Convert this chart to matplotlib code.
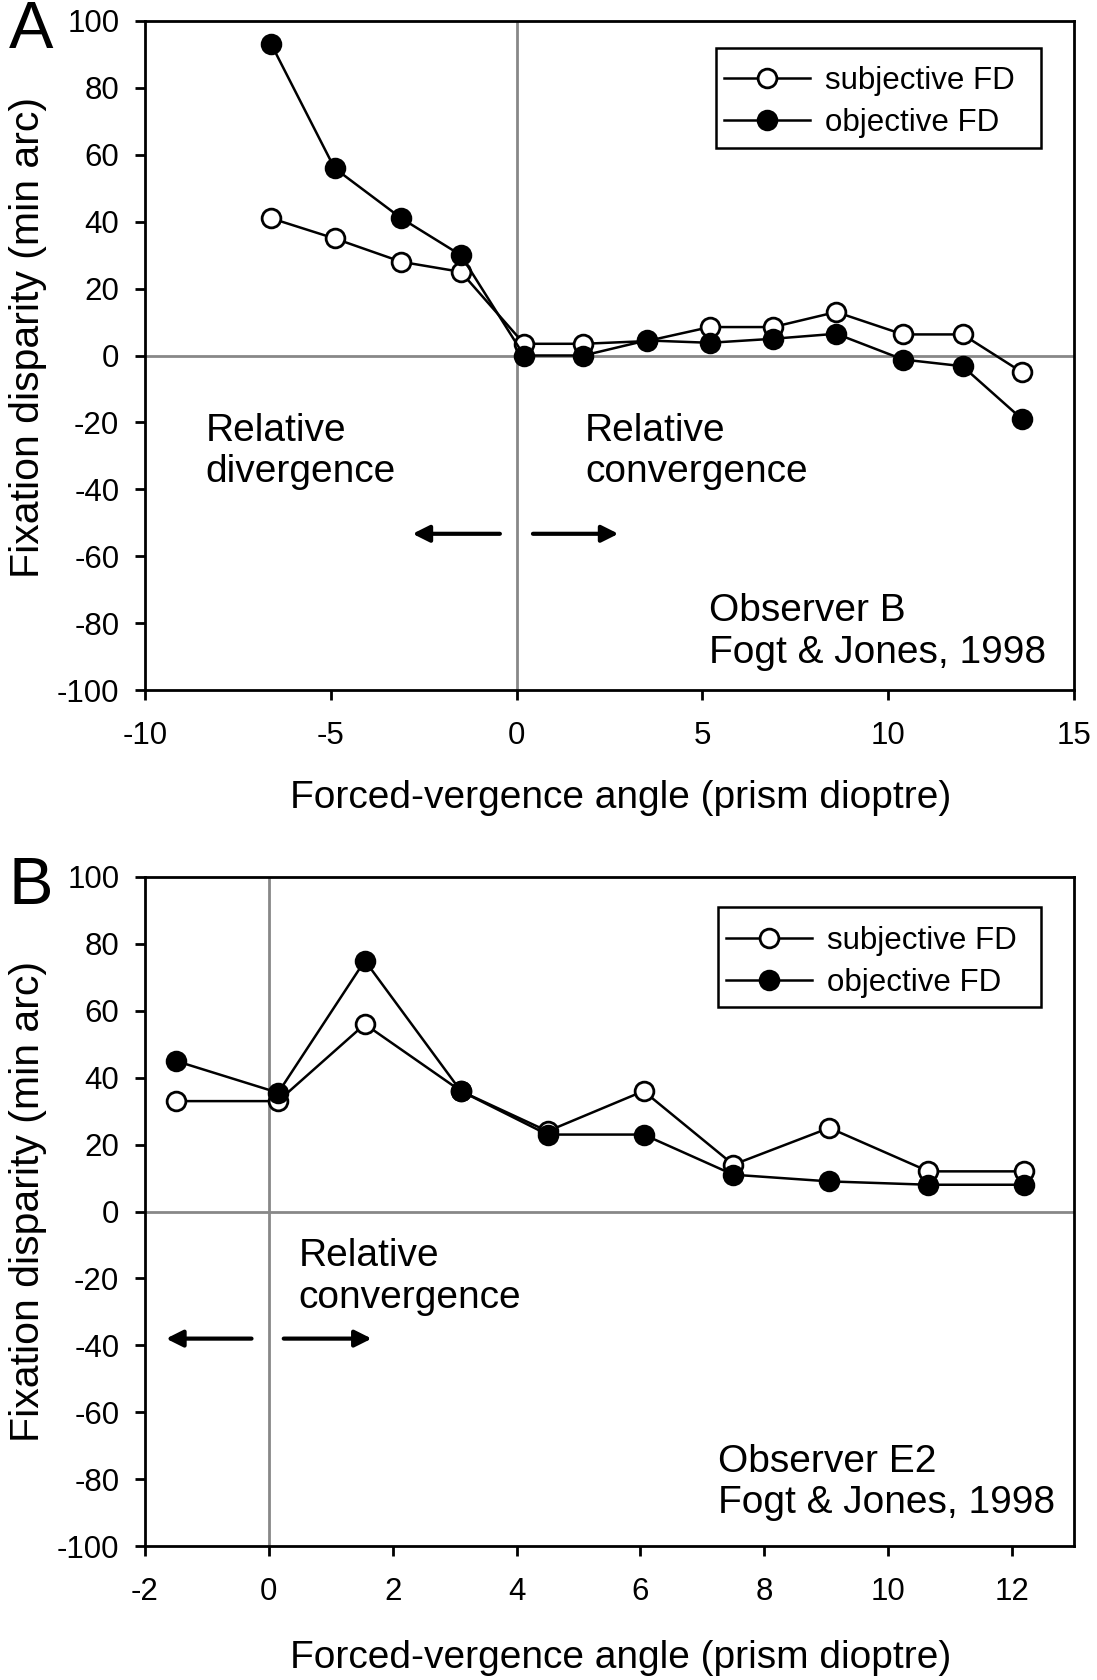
import matplotlib
matplotlib.use("Agg")
import matplotlib.pyplot as plt
from matplotlib.patches import Rectangle

plt.rcParams['font.family'] = ['Liberation Sans', 'DejaVu Sans']
plt.rcParams['axes.unicode_minus'] = False

# ---- Panel A data (Observer B) ----
xA = [-6.6, -4.9, -3.1, -1.5, 0.2, 1.8, 3.5, 5.2, 6.9, 8.6, 10.4, 12.0, 13.6]
subjA = [41, 35, 28, 25, 3.5, 3.5, 4.3, 8.5, 8.5, 13, 6.3, 6.3, -5]
objA = [93, 56, 41, 30, 0, 0, 4.5, 3.8, 5, 6.5, -1.2, -3.2, -19]

# ---- Panel B data (Observer E2) ----
xB = [-1.5, 0.15, 1.55, 3.1, 4.5, 6.05, 7.5, 9.05, 10.65, 12.2]
subjB = [33, 33, 56, 36, 24, 36, 14, 25, 12, 12]
objB = [45, 35.5, 75, 36, 23, 23, 11, 9, 8, 8]

yticks = [-100, -80, -60, -40, -20, 0, 20, 40, 60, 80, 100]
xticksA = [-10, -5, 0, 5, 10, 15]
xticksB = [-2, 0, 2, 4, 6, 8, 10, 12]

W, H = 1097, 1680
fig = plt.figure(figsize=(W / 100, H / 100), dpi=100)

def ax_rect(l, t, r, b):
    return [l / W, 1 - b / H, (r - l) / W, (b - t) / H]

boxA = (145, 21, 1074, 690)
boxB = (145, 877, 1074, 1546)
axA = fig.add_axes(ax_rect(*boxA))
axB = fig.add_axes(ax_rect(*boxB))

MS = 13.5
LW = 1.8
LFS = 22.5

def style(ax, xlim, xticks):
    ax.set_xlim(*xlim)
    ax.set_ylim(-100, 100)
    ax.set_xticks(xticks)
    ax.set_yticks(yticks)
    ax.axhline(0, color='#888888', lw=2.0, zorder=1)
    ax.axvline(0, color='#888888', lw=2.0, zorder=1)
    for s in ax.spines.values():
        s.set_linewidth(2.0)
        s.set_color('black')
    ax.tick_params(axis='both', direction='out', length=7.5, width=2.0,
                   labelsize=22.5, colors='black')
    ax.tick_params(axis='x', pad=15)
    ax.tick_params(axis='y', pad=11)
    ax.tick_params(top=False, right=False)

def plot_panel(ax, box, x, subj, obj, frame_px, first_row_px):
    ax.plot(x, subj, '-o', color='black', lw=LW, ms=MS, mfc='white',
            mec='black', mew=2.0, label='subjective FD', zorder=3)
    ax.plot(x, obj, '-o', color='black', lw=LW, ms=MS, mfc='black',
            mec='black', mew=2.0, label='objective FD', zorder=4)
    l, t, r, b = box
    fx = lambda px: (px - l) / (r - l)
    fy = lambda py: 1 - (py - t) / (b - t)
    # legend entries (no frame), then a drawn frame around them
    hx, row_top = first_row_px
    leg = ax.legend(loc='upper left', bbox_to_anchor=(fx(hx), fy(row_top)),
                    fontsize=LFS, frameon=False, handlelength=2.74,
                    handletextpad=0.48, labelspacing=0.38, borderpad=0,
                    borderaxespad=0)
    leg.set_zorder(6)
    x0, y0, x1, y1 = frame_px
    ax.add_patch(Rectangle((fx(x0), fy(y1)), fx(x1) - fx(x0), fy(y0) - fy(y1),
                           transform=ax.transAxes, facecolor='white',
                           edgecolor='black', lw=1.8, zorder=5, clip_on=False))

style(axA, (-10, 15), xticksA)
plot_panel(axA, boxA, xA, subjA, objA, (716, 48, 1041, 148), (724, 66))
style(axB, (-2, 13), xticksB)
plot_panel(axB, boxB, xB, subjB, objB, (718, 907, 1041, 1007), (726, 926))

arrow_kw = dict(arrowstyle='-|>,head_length=1.0,head_width=0.5', color='black',
                lw=3, shrinkA=0, shrinkB=0)

FS = 28
LS = 1.2

# Panel A annotations
axA.text(-8.37, -28.7, 'Relative\ndivergence', fontsize=FS, ha='left',
         va='center', linespacing=LS)
axA.text(1.84, -28.7, 'Relative\nconvergence', fontsize=FS, ha='left',
         va='center', linespacing=LS)
axA.annotate('', xy=(-2.8, -53.3), xytext=(-0.45, -53.3), arrowprops=arrow_kw)
axA.annotate('', xy=(2.74, -53.3), xytext=(0.44, -53.3), arrowprops=arrow_kw)
axA.text(5.18, -82.6, 'Observer B\nFogt & Jones, 1998', fontsize=FS,
         ha='left', va='center', linespacing=LS)

# Panel B annotations
axB.text(0.48, -19.5, 'Relative\nconvergence', fontsize=FS, ha='left',
         va='center', linespacing=LS)
axB.annotate('', xy=(-1.66, -38), xytext=(-0.28, -38), arrowprops=arrow_kw)
axB.annotate('', xy=(1.66, -38), xytext=(0.24, -38), arrowprops=arrow_kw)
axB.text(7.25, -81, 'Observer E2\nFogt & Jones, 1998', fontsize=FS,
         ha='left', va='center', linespacing=LS)

# Axis labels
for yc in [337, 1201]:
    fig.text(28 / W, 1 - yc / H, 'Fixation disparity (min arc)', fontsize=29.5,
             rotation=90, ha='center', va='center')
for yc in [798, 1658]:
    fig.text(621 / W, 1 - yc / H, 'Forced-vergence angle (prism dioptre)',
             fontsize=28, ha='center', va='center')

# Panel letters
fig.text(31 / W, 1 - 31 / H, 'A', fontsize=48, ha='center', va='center')
fig.text(31 / W, 1 - 887 / H, 'B', fontsize=48, ha='center', va='center')

fig.savefig('out.png', dpi=100)
